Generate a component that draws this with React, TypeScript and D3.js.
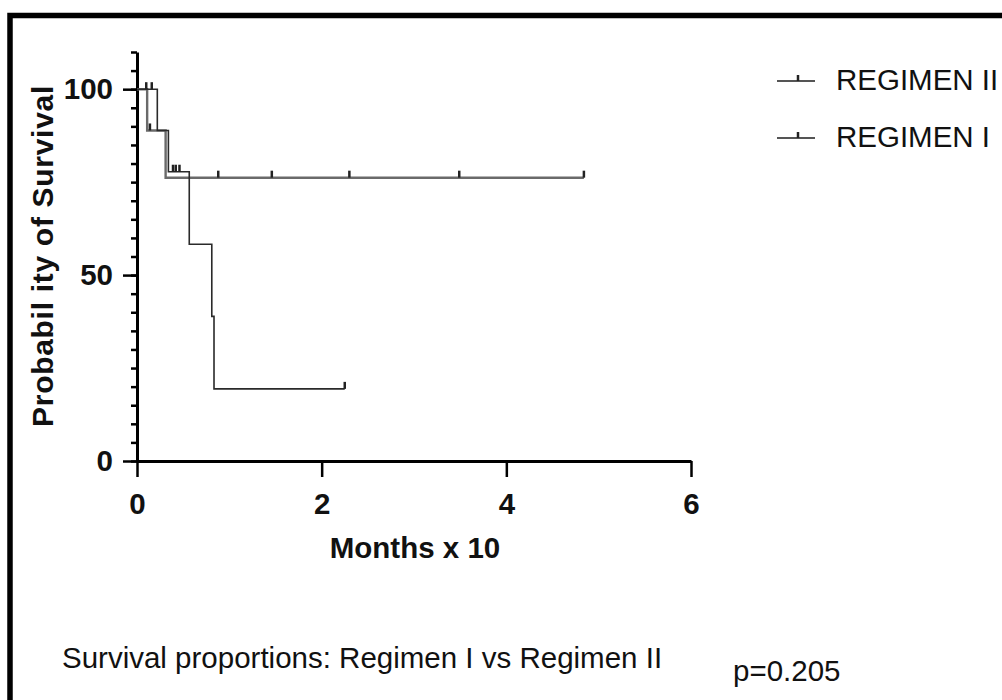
import { useEffect, useRef } from 'react';
import * as d3 from 'd3';

// survival curves (time in months x 10, survival in %)
const legendLabels = ['REGIMEN II', 'REGIMEN I'];

const regimenIITimes = [0, 0.11, 0.31, 4.84];
const regimenIISurvival = [100, 88.9, 76.2, 76.2];
const regimenIICensored = [0.14, 0.88, 1.46, 2.3, 3.49, 4.84];

const regimenITimes = [0, 0.22, 0.34, 0.566, 0.81, 0.834, 2.25];
const regimenISurvival = [100, 88.9, 77.8, 58.3, 38.9, 19.4, 19.4];
const regimenICensored = [0.1, 0.16, 0.39, 0.42, 0.46, 2.25];

const xTicks = [0, 2, 4, 6];
const yTicks = [0, 50, 100];

const FONT = "'Liberation Sans', Arial, sans-serif";
const FS = 29.5;

const App = () => {
    const ref = useRef(null);
    const width = 1002,
        height = 700;

    useEffect(() => {
        const svg = d3.select(ref.current).attr('width', width).attr('height', height);
        svg.selectAll('*').remove();

        const x = d3.scaleLinear().domain([0, 6]).range([137, 691]);
        const y = d3.scaleLinear().domain([0, 110]).range([461, 52]);

        // frame around the figure (only top and left visible)
        svg.append('rect')
            .attr('x', 10)
            .attr('y', 15.5)
            .attr('width', 1200)
            .attr('height', 1000)
            .attr('fill', 'none')
            .attr('stroke', '#000')
            .attr('stroke-width', 5.5);

        // y axis: minor ticks every 5, major at 0/50/100
        const minor = d3.range(0, 111, 5);
        svg.append('g')
            .attr('transform', `translate(${x(0)},0)`)
            .call(d3.axisLeft(y).tickValues(minor).tickSize(6).tickSizeOuter(0).tickFormat(() => ''))
            .call((g) => g.selectAll('line').attr('stroke-width', 2.5))
            .call((g) => g.select('.domain').attr('stroke-width', 3));

        svg.append('g')
            .attr('transform', `translate(${x(0)},0)`)
            .call(d3.axisLeft(y).tickValues(yTicks).tickSize(14).tickPadding(10).tickSizeOuter(0))
            .call((g) => g.select('.domain').remove())
            .call((g) => g.selectAll('line').attr('stroke-width', 2.5))
            .call((g) =>
                g.selectAll('text').attr('font-family', FONT).attr('font-size', FS).attr('font-weight', 'bold').attr('fill', '#111')
            );

        svg.append('g')
            .attr('transform', `translate(0,${y(0)})`)
            .call(
                d3.axisBottom(x).tickValues(xTicks).tickFormat(d3.format('d')).tickSize(16).tickPadding(16).tickSizeOuter(0)
            )
            .call((g) => g.select('.domain').attr('stroke-width', 3))
            .call((g) => g.selectAll('line').attr('stroke-width', 2.5))
            .call((g) =>
                g.selectAll('text').attr('font-family', FONT).attr('font-size', FS).attr('font-weight', 'bold').attr('fill', '#111')
            );

        // axis titles
        svg.append('text')
            .attr('transform', 'translate(53,256) rotate(-90)')
            .attr('text-anchor', 'middle')
            .attr('font-family', FONT)
            .attr('font-size', 30)
            .attr('letter-spacing', 0.7)
            .attr('font-weight', 'bold')
            .attr('fill', '#111')
            .text('Probabil ity of Survival');

        svg.append('text')
            .attr('x', 415)
            .attr('y', 558)
            .attr('text-anchor', 'middle')
            .attr('font-family', FONT)
            .attr('font-size', FS)
            .attr('font-weight', 'bold')
            .attr('fill', '#111')
            .text('Months x 10');

        const line = d3
            .line()
            .x((d) => x(d[0]))
            .y((d) => y(d[1]))
            .curve(d3.curveStepAfter);

        const stepAt = (times, surv, t) => {
            let v = surv[0];
            times.forEach((tt, i) => {
                if (tt <= t) v = surv[i];
            });
            return v;
        };

        const series = [
            { times: regimenIITimes, surv: regimenIISurvival, cens: regimenIICensored, color: '#6a6a6a', w: 2.4 },
            { times: regimenITimes, surv: regimenISurvival, cens: regimenICensored, color: '#2a2a2a', w: 1.6 },
        ];

        series.forEach((s) => {
            const pts = s.times.map((t, i) => [t, s.surv[i]]);
            svg.append('path')
                .attr('d', line(pts))
                .attr('fill', 'none')
                .attr('stroke', s.color)
                .attr('stroke-width', s.w);

            svg.append('g')
                .selectAll('line')
                .data(s.cens)
                .enter()
                .append('line')
                .attr('x1', (d) => x(d))
                .attr('x2', (d) => x(d))
                .attr('y1', (d) => y(stepAt(s.times, s.surv, d)))
                .attr('y2', (d) => y(stepAt(s.times, s.surv, d)) - 7)
                .attr('stroke', '#222')
                .attr('stroke-width', 2.5);
        });

        // legend
        const legend = svg.append('g');
        legendLabels.forEach((label, i) => {
            const ly = 81 + i * 57;
            legend.append('line')
                .attr('x1', 777)
                .attr('x2', 815)
                .attr('y1', ly)
                .attr('y2', ly)
                .attr('stroke', '#555')
                .attr('stroke-width', 2);
            legend.append('line')
                .attr('x1', 798)
                .attr('x2', 798)
                .attr('y1', ly)
                .attr('y2', ly - 6)
                .attr('stroke', '#222')
                .attr('stroke-width', 2.5);
            legend.append('text')
                .attr('x', 836)
                .attr('y', ly + 9)
                .attr('font-family', FONT)
                .attr('font-size', FS)
                .attr('fill', '#111')
                .text(label);
        });

        // footer
        svg.append('text')
            .attr('x', 62)
            .attr('y', 668)
            .attr('font-family', FONT)
            .attr('font-size', FS)
            .attr('fill', '#111')
            .text('Survival proportions: Regimen I vs Regimen II');

        svg.append('text')
            .attr('x', 733)
            .attr('y', 681)
            .attr('font-family', FONT)
            .attr('font-size', FS)
            .attr('fill', '#111')
            .text('p=0.205');
    }, []);

    return (
        <svg
            ref={ref}
            style={{ position: 'absolute', left: 0, top: 0, background: '#fff' }}
        ></svg>
    );
};

export default App;
